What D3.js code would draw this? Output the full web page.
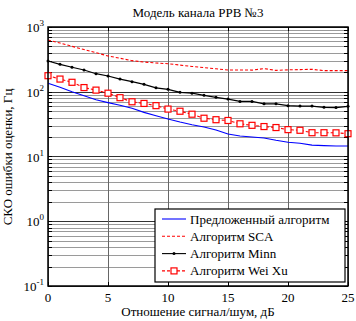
<!DOCTYPE html>
<html>
<head>
<meta charset="utf-8">
<script src="https://d3js.org/d3.v7.min.js"></script>
<style>
  body { margin: 0; background: #fff; }
  text { font-family: "Liberation Serif", "DejaVu Serif", serif; }
</style>
</head>
<body>
<div id="chart"></div>
<script>
// SNR values, dB
var snr = d3.range(0, 26);

// estimation error, Hz
var proposed = [135, 117, 100, 87, 75, 68, 62, 55.5, 48, 42.7, 38, 34, 31, 28.6, 25.7, 22.3, 20.7, 20, 19.3, 17.8, 16.6, 16, 15, 14.7, 14.5, 14.5];
var sca = [629, 566, 503, 449, 401, 357, 329, 302, 288, 278, 271, 258, 246, 236, 226, 217, 217, 216, 228, 214, 218, 220, 222, 212, 212, 212];
var minn = [298, 265, 239, 217, 190, 175, 157, 143, 130, 115, 109, 98, 95, 88, 82, 77, 71, 71, 65, 65, 61, 60, 60, 57.5, 57, 59.6];
var weiXu = [177, 157, 140, 116, 106, 95, 81, 70, 66, 61, 54, 50, 45, 39, 37, 36, 32, 30.3, 29, 28, 26, 25.4, 23.3, 23.3, 23.2, 22.5];

var xTicks = [0, 5, 10, 15, 20, 25];
var yDecades = [-1, 0, 1, 2, 3];

var legendNames = ["Предложенный алгоритм", "Алгоритм SCA", "Алгоритм Minn", "Алгоритм Wei Xu"];

var W = 356, H = 321;
var margin = {top: 27, right: 8, bottom: 35, left: 48},
    width = W - margin.left - margin.right,
    height = H - margin.top - margin.bottom;

var svg = d3.select("#chart").append("svg")
    .attr("width", W).attr("height", H);

var g = svg.append("g")
    .attr("transform", "translate(" + margin.left + "," + margin.top + ")");

var x = d3.scaleLinear().domain([0, 25]).range([0, width]);
var y = d3.scaleLog().domain([0.1, 1000]).range([height, 0]);

// grid: minor log lines
var minor = [];
yDecades.slice(0, -1).forEach(function(e) {
  for (var k = 2; k <= 9; k++) minor.push(k * Math.pow(10, e));
});
g.selectAll(".minor").data(minor).enter().append("line")
  .attr("x1", 0).attr("x2", width)
  .attr("y1", function(d) { return Math.round(y(d)) + 0.5; })
  .attr("y2", function(d) { return Math.round(y(d)) + 0.5; })
  .attr("stroke", "#9a9a9a").attr("stroke-width", 1);

g.selectAll(".major").data(yDecades).enter().append("line")
  .attr("x1", 0).attr("x2", width)
  .attr("y1", function(d) { return Math.round(y(Math.pow(10, d))) + 0.5; })
  .attr("y2", function(d) { return Math.round(y(Math.pow(10, d))) + 0.5; })
  .attr("stroke", "#333").attr("stroke-width", 1);

g.selectAll(".vgrid").data(xTicks).enter().append("line")
  .attr("x1", function(d) { return Math.round(x(d)) + 0.5; })
  .attr("x2", function(d) { return Math.round(x(d)) + 0.5; })
  .attr("y1", 0).attr("y2", height)
  .attr("stroke", "#666").attr("stroke-width", 1);

// ticks on all sides (inward)
var allY = minor.concat(yDecades.map(function(e) { return Math.pow(10, e); }));
[0, width].forEach(function(side) {
  g.selectAll(null).data(allY).enter().append("line")
    .attr("x1", side).attr("x2", side === 0 ? 4 : width - 4)
    .attr("y1", function(d) { return Math.round(y(d)) + 0.5; })
    .attr("y2", function(d) { return Math.round(y(d)) + 0.5; })
    .attr("stroke", "#000");
});
[0, height].forEach(function(side) {
  g.selectAll(null).data(xTicks).enter().append("line")
    .attr("y1", side).attr("y2", side === 0 ? 4 : height - 4)
    .attr("x1", function(d) { return Math.round(x(d)) + 0.5; })
    .attr("x2", function(d) { return Math.round(x(d)) + 0.5; })
    .attr("stroke", "#000");
});

// axis labels
g.selectAll(".xl").data(xTicks).enter().append("text")
  .attr("x", function(d) { return x(d); })
  .attr("y", height + 16)
  .attr("text-anchor", "middle")
  .attr("font-size", 13)
  .text(function(d) { return d; });

var yl = g.selectAll(".yl").data(yDecades).enter().append("text")
  .attr("x", -4)
  .attr("y", function(d) { return y(Math.pow(10, d)) + 5; })
  .attr("text-anchor", "end")
  .attr("font-size", 13);
yl.append("tspan").text("10");
yl.append("tspan").attr("dy", -6).attr("font-size", 9).text(function(d) { return d; });

// series
var line = d3.line()
  .x(function(d, i) { return x(snr[i]); })
  .y(function(d) { return y(d); });

g.append("path").datum(proposed)
  .attr("fill", "none").attr("stroke", "#0000ff").attr("stroke-width", 1.1)
  .attr("d", line);
g.append("path").datum(sca)
  .attr("fill", "none").attr("stroke", "#ff0000").attr("stroke-width", 1.1)
  .attr("stroke-dasharray", "3,2")
  .attr("d", line);
g.append("path").datum(minn)
  .attr("fill", "none").attr("stroke", "#000").attr("stroke-width", 1.2)
  .attr("d", line);
g.selectAll(".mdot").data(minn).enter().append("circle")
  .attr("cx", function(d, i) { return x(snr[i]); })
  .attr("cy", function(d) { return y(d); })
  .attr("r", 1.5).attr("fill", "#000");
g.append("path").datum(weiXu)
  .attr("fill", "none").attr("stroke", "#ff0000").attr("stroke-width", 1.1)
  .attr("stroke-dasharray", "3,2")
  .attr("d", line);
g.selectAll(".sq").data(weiXu).enter().append("rect")
  .attr("x", function(d, i) { return x(snr[i]) - 3; })
  .attr("y", function(d) { return y(d) - 3; })
  .attr("width", 6).attr("height", 6)
  .attr("fill", "#fff").attr("stroke", "#ff0000").attr("stroke-width", 1.2);

// frame
g.append("rect").attr("x", 0).attr("y", 0).attr("width", width).attr("height", height)
  .attr("fill", "none").attr("stroke", "#000").attr("stroke-width", 1.5);

// legend
var lg = svg.append("g").attr("transform", "translate(155,209)");
lg.append("rect").attr("width", 190).attr("height", 73)
  .attr("fill", "#fff").attr("stroke", "#000").attr("stroke-width", 1.2);
var styles = [
  {c: "#0000ff", dash: null, mark: null},
  {c: "#ff0000", dash: "3,2", mark: null},
  {c: "#000", dash: null, mark: "dot"},
  {c: "#ff0000", dash: "3,2", mark: "sq"}
];
legendNames.forEach(function(name, i) {
  var yy = 10 + i * 17.3;
  var s = styles[i];
  lg.append("line").attr("x1", 7).attr("x2", 31).attr("y1", yy).attr("y2", yy)
    .attr("stroke", s.c).attr("stroke-width", 1.1)
    .attr("stroke-dasharray", s.dash);
  if (s.mark === "dot") lg.append("circle").attr("cx", 19).attr("cy", yy).attr("r", 1.5).attr("fill", "#000");
  if (s.mark === "sq") lg.append("rect").attr("x", 16).attr("y", yy - 3).attr("width", 6).attr("height", 6)
    .attr("fill", "#fff").attr("stroke", "#ff0000").attr("stroke-width", 1.2);
  lg.append("text").attr("x", 35).attr("y", yy + 4.5).attr("font-size", 13).text(name);
});

// titles
svg.append("text").attr("x", margin.left + width / 2).attr("y", 17)
  .attr("text-anchor", "middle").attr("font-size", 13)
  .text("Модель канала РРВ №3");
svg.append("text").attr("x", margin.left + width / 2).attr("y", 316)
  .attr("text-anchor", "middle").attr("font-size", 13)
  .text("Отношение сигнал/шум, дБ");
svg.append("text")
  .attr("transform", "translate(12," + (margin.top + 130) + ") rotate(-90)")
  .attr("text-anchor", "middle").attr("font-size", 13)
  .text("СКО ошибки оценки, Гц");
</script>
</body>
</html>
